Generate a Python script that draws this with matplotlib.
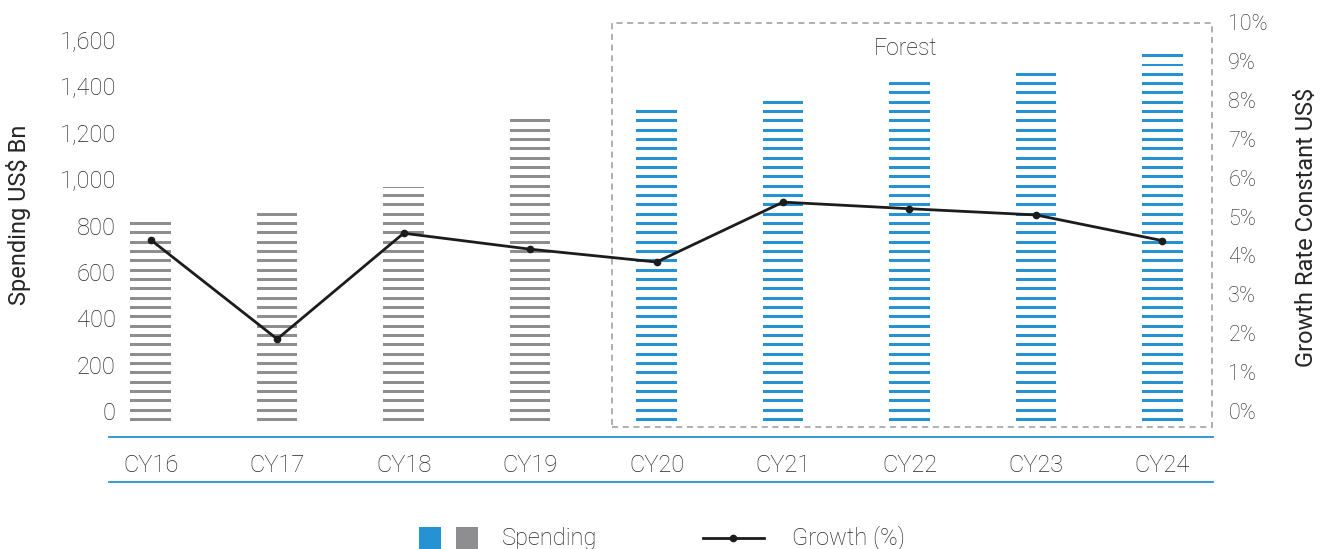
import numpy as np
import matplotlib
matplotlib.use("Agg")
import matplotlib.pyplot as plt
from matplotlib.patches import Rectangle
from matplotlib.lines import Line2D
import matplotlib.transforms as mtransforms

# ---- data ----
categories = ["CY16", "CY17", "CY18", "CY19", "CY20", "CY21", "CY22", "CY23", "CY24"]
spending = [815, 858, 965, 1263, 1306, 1345, 1427, 1466, 1547]
growth = [4.40, 1.85, 4.57, 4.16, 3.83, 5.37, 5.20, 5.04, 4.38]
is_forecast = [False, False, False, False, True, True, True, True, True]
left_ticks = [0, 200, 400, 600, 800, 1000, 1200, 1400, 1600]
left_ticklabels = ["0", "200", "400", "600", "800", "1,000", "1,200", "1,400", "1,600"]
right_ticks = list(range(0, 11))
right_ticklabels = [f"{v}%" for v in right_ticks]

# ---- style ----
GREY = "#8e8e90"
BLUE = "#2592d3"
LINEC = "#1c1c1c"
TEXTC = "#262626"
BAR_BASE = -43
STRIPE_STEP = 40.25
STRIPE_THICK = 12.5
BAR_W = 0.32

plt.rcParams['font.family'] = ['Roboto', 'DejaVu Sans']
plt.rcParams['font.weight'] = 'light'

fig = plt.figure(figsize=(13.23, 5.49), dpi=100)
ax = fig.add_axes([109/1323, (549-437)/549, (1213-109)/1323, (437-22)/549])
ax2 = ax.twinx()

x = np.arange(len(categories))

# striped bars, stripes stacked upward from the common base, top stripe clipped at value
for xi, val, fc in zip(x, spending, is_forecast):
    col = BLUE if fc else GREY
    bottoms = np.arange(BAR_BASE, val, STRIPE_STEP)
    heights = np.minimum(STRIPE_THICK, val - bottoms)
    heights = np.maximum(heights, 4.0)
    ax.bar(np.full(len(bottoms), xi), heights, bottom=bottoms, width=BAR_W,
           color=col, linewidth=0, zorder=2)

ax.set_xlim(-0.33, 8.40)
ax.set_ylim(-112, 1678)
ax2.set_ylim(-0.668, 10)

ax.set_yticks(left_ticks)
ax.set_yticklabels(left_ticklabels)
ax2.set_yticks(right_ticks)
ax2.set_yticklabels(right_ticklabels)
ax.set_xticks(x)
ax.set_xticklabels(categories)

ax.tick_params(axis='y', length=0, pad=-5, labelsize=17, labelcolor=TEXTC)
ax2.tick_params(axis='y', length=0, pad=11, labelsize=15.5, labelcolor=TEXTC)
ax.tick_params(axis='x', length=0, pad=12, labelsize=17, labelcolor=TEXTC)

for a in (ax, ax2):
    for s in ("top", "left", "right", "bottom"):
        a.spines[s].set_visible(False)
ax.spines["bottom"].set_visible(True)
ax.spines["bottom"].set_color(BLUE)
ax.spines["bottom"].set_linewidth(1.3)

# second blue rule below tick labels
ax.add_line(Line2D([0, 1], [-(482-437)/415]*2, transform=ax.transAxes,
                   color=BLUE, lw=1.3, clip_on=False))

ax.set_ylabel("Spending US$ Bn", fontsize=17, color=TEXTC)
ax2.set_ylabel("Growth Rate Constant US$", fontsize=17, color=TEXTC)
ax.yaxis.set_label_coords(-0.071, 0.535)
ax2.yaxis.set_label_coords(1.074, 0.505)

# forecast box
trans = mtransforms.blended_transform_factory(ax.transData, ax.transAxes)
ax.add_patch(Rectangle((3.65, 0.024), 8.39 - 3.65, 0.998 - 0.024, transform=trans,
                       fill=False, edgecolor="#9a9a9a", lw=1.1, linestyle=(0, (4, 3)),
                       clip_on=False, zorder=1))
ax.text(5.97, 1565, "Forest", ha="center", va="center", fontsize=16.5, color=TEXTC)

# growth line
ax2.plot(x, growth, color=LINEC, lw=2.0, marker="o", markersize=4.5, zorder=5)

# legend (manual)
def fx(px):
    return px / 1323
def fy(py):
    return (549 - py) / 549
fig.patches.append(Rectangle((fx(419), fy(549)), 22/1323, 22/549, transform=fig.transFigure,
                             color=BLUE, lw=0))
fig.patches.append(Rectangle((fx(455.5), fy(549)), 22/1323, 22/549, transform=fig.transFigure,
                             color=GREY, lw=0))
fig.text(fx(502), fy(538), "Spending", fontsize=17, color=TEXTC, va="center", ha="left")
fig.lines.append(Line2D([fx(703), fx(764)], [fy(538), fy(538)], transform=fig.transFigure,
                        color=LINEC, lw=2.0))
fig.lines.append(Line2D([fx(733)], [fy(538)], transform=fig.transFigure,
                        color=LINEC, marker="o", markersize=4.5, lw=0))
fig.text(fx(792), fy(538), "Growth (%)", fontsize=17, color=TEXTC, va="center", ha="left")

fig.savefig("out.png", dpi=100)
